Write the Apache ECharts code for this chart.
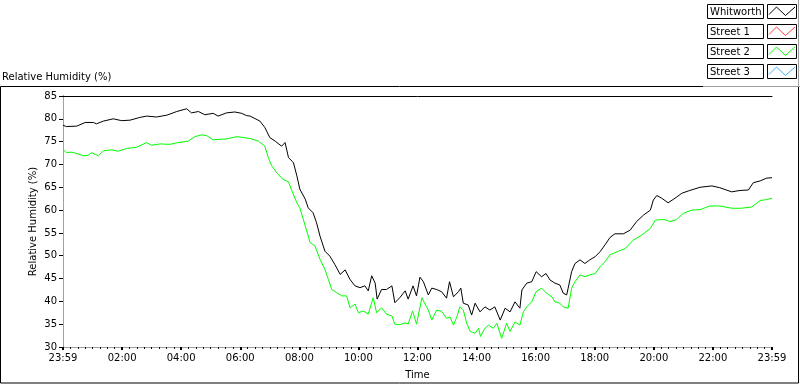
<!DOCTYPE html>
<html>
<head>
<meta charset="utf-8">
<script src="https://cdn.jsdelivr.net/npm/echarts@6/dist/echarts.min.js"></script>
<style>
  html, body { margin: 0; padding: 0; background: #fff; }
  #chart { width: 800px; height: 386px; }
</style>
</head>
<body>
<div id="chart"></div>
<script>
// minutes since 23:59 -> relative humidity (%)
const whitworth = [
  [0, 78.6], [7, 78.3], [28, 78.4], [45, 79.2], [62, 79.2], [68, 78.9], [82, 79.5],
  [102, 80.0], [119, 79.6], [136, 79.7], [156, 80.3], [170, 80.6], [190, 80.4],
  [211, 80.8], [231, 81.6], [251, 82.2], [261, 81.3], [275, 81.6], [288, 80.9],
  [305, 81.2], [315, 80.6], [332, 81.3], [349, 81.5], [363, 81.2], [373, 80.7],
  [380, 80.6], [400, 79.5], [410, 78.1], [420, 75.9], [431, 75.1], [444, 74.0],
  [451, 74.8], [458, 71.5], [468, 70.4], [475, 67.5], [481, 64.6], [492, 62.4],
  [498, 60.5], [508, 59.4], [515, 57.2], [522, 54.3], [532, 51.0], [542, 49.9],
  [552, 48.1], [563, 45.9], [573, 46.9], [583, 44.8], [593, 43.4], [603, 43.0],
  [613, 43.4], [620, 42.3], [627, 45.6], [634, 44.0], [638, 40.5], [647, 42.6],
  [657, 42.6], [668, 43.4], [674, 39.7], [684, 40.8], [695, 42.3], [701, 40.5],
  [711, 43.4], [718, 41.2], [725, 45.3], [732, 44.3], [742, 41.4], [749, 42.9],
  [759, 42.6], [769, 42.1], [779, 40.7], [785, 44.3], [793, 41.0], [803, 42.1],
  [808, 42.9], [813, 39.6], [823, 39.2], [830, 37.0], [837, 39.6], [847, 37.7],
  [857, 38.8], [867, 38.1], [877, 38.8], [888, 35.9], [898, 38.5], [908, 37.7],
  [918, 39.9], [928, 38.5], [932, 42.5], [942, 44.0], [952, 44.3], [961, 46.5],
  [972, 45.4], [981, 46.1], [989, 44.7], [999, 44.0], [1009, 43.6], [1016, 41.8],
  [1023, 41.4], [1026, 42.9], [1033, 46.5], [1040, 48.3], [1050, 49.1], [1060, 48.3],
  [1070, 49.1], [1081, 49.8], [1091, 50.9], [1101, 52.4], [1111, 54.0], [1121, 54.8],
  [1138, 54.8], [1152, 55.6], [1165, 57.5], [1179, 58.9], [1193, 60.0], [1199, 62.2],
  [1206, 63.2], [1216, 62.6], [1229, 61.6], [1243, 62.6], [1257, 63.7], [1273, 64.3],
  [1294, 65.0], [1318, 65.3], [1334, 64.9], [1358, 64.0], [1375, 64.3], [1392, 64.4],
  [1402, 66.0], [1416, 66.4], [1429, 67.0], [1440, 67.1]
]
const street2 = [
  [0, 73.3], [7, 72.6], [18, 72.7], [28, 72.4], [41, 71.9], [51, 72.0], [58, 72.6],
  [72, 71.9], [82, 73.0], [99, 73.2], [112, 72.9], [129, 73.5], [150, 73.8],
  [170, 74.8], [180, 74.2], [197, 74.5], [217, 74.4], [234, 74.8], [254, 75.1],
  [268, 76.1], [282, 76.5], [292, 76.3], [305, 75.4], [319, 75.5], [332, 75.6],
  [353, 76.1], [366, 75.9], [380, 75.7], [397, 75.1], [410, 74.0], [417, 71.5],
  [424, 69.7], [434, 68.2], [447, 66.7], [458, 66.2], [465, 64.2], [475, 61.6],
  [481, 60.5], [488, 58.0], [495, 55.4], [502, 52.9], [512, 52.1], [522, 49.2],
  [532, 47.0], [539, 44.8], [546, 42.6], [556, 41.9], [566, 41.2], [576, 41.2],
  [583, 38.6], [593, 39.4], [600, 37.5], [610, 37.9], [620, 37.2], [630, 40.8],
  [637, 37.5], [647, 38.6], [657, 37.2], [668, 36.8], [674, 35.0], [684, 34.9],
  [695, 35.3], [701, 35.0], [710, 37.9], [718, 35.0], [729, 40.8], [735, 39.5],
  [742, 38.1], [749, 35.9], [759, 38.1], [769, 37.8], [779, 36.3], [786, 36.6],
  [793, 34.8], [800, 36.6], [806, 38.8], [813, 38.1], [820, 35.2], [827, 33.4],
  [837, 33.0], [844, 34.1], [848, 32.3], [857, 34.1], [864, 34.8], [874, 34.1],
  [881, 35.2], [891, 31.9], [901, 35.2], [908, 33.4], [918, 35.5], [928, 34.8],
  [935, 37.7], [942, 38.8], [952, 39.9], [961, 42.1], [972, 42.9], [982, 41.8],
  [993, 41.0], [999, 39.9], [1009, 39.6], [1016, 38.8], [1026, 38.5], [1033, 42.9],
  [1040, 44.3], [1050, 45.8], [1060, 45.4], [1070, 45.8], [1081, 46.1], [1091, 47.6],
  [1101, 48.7], [1111, 50.2], [1128, 51.0], [1142, 51.6], [1158, 53.4], [1175, 54.5],
  [1193, 56.0], [1203, 57.8], [1213, 57.9], [1223, 57.9], [1233, 57.5], [1246, 57.9],
  [1260, 59.3], [1277, 60.0], [1294, 60.1], [1314, 60.9], [1334, 60.9], [1358, 60.4],
  [1378, 60.4], [1399, 60.7], [1416, 62.1], [1429, 62.3], [1440, 62.6]
]
const street1 = []
const street3 = []

const seriesNames = ['Whitworth', 'Street 1', 'Street 2', 'Street 3']
const seriesColors = ['#000000', '#ff4040', '#00ff00', '#40b4ff']
const xTickLabels = ['23:59', '02:00', '04:00', '06:00', '08:00', '10:00', '12:00',
  '14:00', '16:00', '18:00', '20:00', '22:00', '23:59']

const font = 'DejaVu Sans'
const chart = echarts.init(document.getElementById('chart'), null, { renderer: 'canvas' })

const seriesData = [whitworth, street1, street2, street3]

// LabVIEW-style legend: name box + line sample box per series
const legendGraphics = []
seriesNames.forEach((n, i) => {
  const y = 4.5 + 20 * i
  legendGraphics.push(
    { type: 'rect', shape: { x: 707.5, y: y, width: 56, height: 14 },
      style: { fill: '#fff', stroke: '#000', lineWidth: 1 }, silent: true },
    { type: 'text', x: 710, y: y + 7.5,
      style: { text: n, font: '10px "DejaVu Sans"', fill: '#000', verticalAlign: 'middle' }, silent: true },
    { type: 'rect', shape: { x: 767.5, y: y, width: 29, height: 14 },
      style: { fill: '#fff', stroke: '#000', lineWidth: 1 }, silent: true },
    { type: 'polyline', shape: { points: [[769, y + 10], [776.5, y + 2.5], [785.5, y + 11], [795, y + 2.5]] },
      style: { stroke: seriesColors[i], lineWidth: 1, fill: 'none' }, silent: true }
  )
})

const option = {
  animation: false,
  backgroundColor: '#fff',
  textStyle: { fontFamily: font },
  grid: { left: 63, top: 96, width: 709, height: 251 },
  graphic: [
    { type: 'rect', shape: { x: 0.5, y: 86.5, width: 798, height: 296.5 },
      style: { fill: 'none', stroke: '#000', lineWidth: 1 }, silent: true },
    { type: 'line', shape: { x1: 703, y1: 86.5, x2: 800, y2: 86.5 },
      style: { stroke: '#a0a0a0', lineWidth: 1 }, silent: true },
    { type: 'line', shape: { x1: 798.5, y1: 0, x2: 798.5, y2: 86 },
      style: { stroke: '#a0a0a0', lineWidth: 1 }, silent: true },
    { type: 'text', left: 2, top: 72,
      style: { text: 'Relative Humidity (%)', font: '10px "DejaVu Sans"', fill: '#000' } }
  ].concat(legendGraphics),
  xAxis: [{
    type: 'value',
    min: 0, max: 1440, interval: 120,
    name: 'Time',
    nameLocation: 'middle',
    nameGap: 23,
    nameMoveOverlap: false,
    nameTextStyle: { fontFamily: font, fontSize: 10, color: '#000' },
    axisLine: { lineStyle: { color: '#a0a0a0' } },
    axisTick: { length: 3, lineStyle: { color: '#000', width: 2 } },
    minorTick: { show: true, splitNumber: 8, length: 2, lineStyle: { color: '#000' } },
    axisLabel: {
      margin: 6, fontFamily: font, fontSize: 10, color: '#000',
      formatter: v => xTickLabels[Math.round(v / 120)]
    },
    splitLine: { show: false }
  }, {
    type: 'value', position: 'top', min: 0, max: 1440,
    axisLine: { lineStyle: { color: '#000' } },
    axisTick: { show: false }, axisLabel: { show: false }, splitLine: { show: false }
  }],
  yAxis: [{
    type: 'value',
    min: 30, max: 85, interval: 5,
    name: 'Relative Humidity (%)',
    nameLocation: 'middle',
    nameGap: 25,
    nameMoveOverlap: false,
    nameTextStyle: { fontFamily: font, fontSize: 10, color: '#000' },
    axisLine: { show: true, lineStyle: { color: '#000' } },
    axisTick: { show: true, length: 4, lineStyle: { color: '#000' } },
    axisLabel: { margin: 6, fontFamily: font, fontSize: 10, color: '#000' },
    splitLine: { show: false }
  }, {
    type: 'value', position: 'right', min: 30, max: 85,
    axisLine: { show: true, lineStyle: { color: '#a0a0a0' } },
    axisTick: { show: false }, axisLabel: { show: false }, splitLine: { show: false }
  }],
  series: seriesNames.map((n, i) => ({
    name: n,
    type: 'line',
    data: seriesData[i],
    showSymbol: false,
    color: seriesColors[i],
    lineStyle: { width: 1, color: seriesColors[i] },
    clip: true
  }))
}

chart.setOption(option)
</script>
</body>
</html>
